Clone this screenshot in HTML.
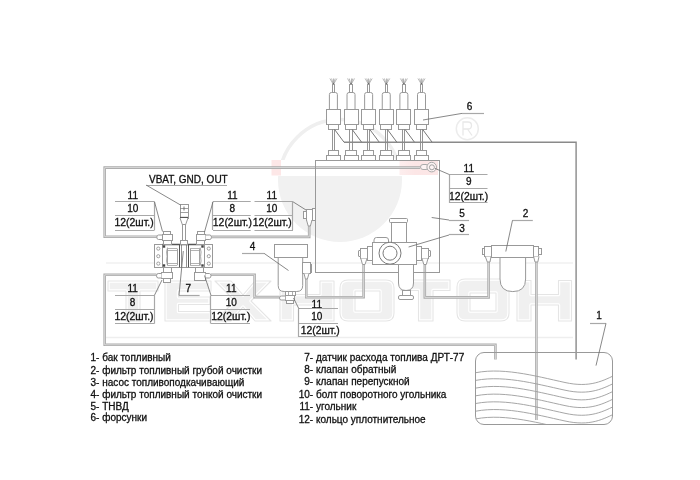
<!DOCTYPE html>
<html><head><meta charset="utf-8"><style>
html,body{margin:0;padding:0;background:#fff;width:700px;height:480px;overflow:hidden}
svg{display:block;will-change:transform;font-family:"Liberation Sans",sans-serif}
</style></head><body>
<svg width="700" height="480" viewBox="0 0 700 480">
<g><clipPath id="cb"><rect x="200" y="176" width="300" height="120"/></clipPath><circle cx="340" cy="180" r="62" fill="#f1f1f1" clip-path="url(#cb)"/><clipPath id="ca"><rect x="200" y="80" width="300" height="80"/></clipPath><circle cx="340" cy="180" r="60.5" stroke="#efefef" stroke-width="3.5" fill="none" clip-path="url(#ca)"/><rect x="271.5" y="160" width="9.5" height="15.5" fill="#fde7e7"/><linearGradient id="pg" x1="0" x2="1" y1="0" y2="0"><stop offset="0" stop-color="#fdeeee"/><stop offset="0.4" stop-color="#fce6e6"/><stop offset="1" stop-color="#fce7e7"/></linearGradient><rect x="399.5" y="160.5" width="38.5" height="14.5" fill="url(#pg)"/><circle cx="467.3" cy="128.7" r="11" stroke="#ececec" stroke-width="1.5" fill="none"/><path d="M463,135.5 V122 H468 Q471.5,122 471.5,125.5 Q471.5,129 468,129 H463 M467.5,129 L472,135.5" stroke="#e8e8e8" stroke-width="1.3" fill="none"/><path d="M108,281 H158 V291 H140 V321 H126 V291 H108 Z" fill="#f0f0f0" stroke="#ffffff" stroke-width="3.4" fill-rule="evenodd" stroke-linejoin="round"/><path d="M108,281 H158 V291 H140 V321 H126 V291 H108 Z" fill="none" stroke="#e5e5e5" stroke-width="1.1" stroke-linejoin="round"/><path d="M165,281 H211 V291 H178.5 V297 H210 V304.5 H178.5 V311.5 H211 V321 H165 Z" fill="#f0f0f0" stroke="#ffffff" stroke-width="3.4" fill-rule="evenodd" stroke-linejoin="round"/><path d="M165,281 H211 V291 H178.5 V297 H210 V304.5 H178.5 V311.5 H211 V321 H165 Z" fill="none" stroke="#e5e5e5" stroke-width="1.1" stroke-linejoin="round"/><path d="M215,281 H231 L243,295 L255,281 H271 L251,301 L271,321 H255 L243,307 L231,321 H215 L235,301 Z" fill="#f0f0f0" stroke="#ffffff" stroke-width="3.4" fill-rule="evenodd" stroke-linejoin="round"/><path d="M215,281 H231 L243,295 L255,281 H271 L251,301 L271,321 H255 L243,307 L231,321 H215 L235,301 Z" fill="none" stroke="#e5e5e5" stroke-width="1.1" stroke-linejoin="round"/><path d="M280,281 H293.5 V294.5 H320 V281 H334 V321 H320 V305 H293.5 V321 H280 Z" fill="#f0f0f0" stroke="#ffffff" stroke-width="3.4" fill-rule="evenodd" stroke-linejoin="round"/><path d="M280,281 H293.5 V294.5 H320 V281 H334 V321 H320 V305 H293.5 V321 H280 Z" fill="none" stroke="#e5e5e5" stroke-width="1.1" stroke-linejoin="round"/><path d="M348,280 H386 Q394,280 394,288 V313 Q394,321 386,321 H348 Q340,321 340,313 V288 Q340,280 348,280 Z M355,291 V311 H380 V291 Z" fill="#f0f0f0" stroke="#ffffff" stroke-width="3.4" fill-rule="evenodd" stroke-linejoin="round"/><path d="M348,280 H386 Q394,280 394,288 V313 Q394,321 386,321 H348 Q340,321 340,313 V288 Q340,280 348,280 Z M355,291 V311 H380 V291 Z" fill="none" stroke="#e5e5e5" stroke-width="1.1" stroke-linejoin="round"/><path d="M401,280 H450 V290.5 H433 V321 H418.5 V290.5 H401 Z" fill="#f0f0f0" stroke="#ffffff" stroke-width="3.4" fill-rule="evenodd" stroke-linejoin="round"/><path d="M401,280 H450 V290.5 H433 V321 H418.5 V290.5 H401 Z" fill="none" stroke="#e5e5e5" stroke-width="1.1" stroke-linejoin="round"/><path d="M465,279 H501 Q509,279 509,287 V313 Q509,321 501,321 H465 Q457,321 457,313 V287 Q457,279 465,279 Z M470,293 V311 H496 V293 Z" fill="#f0f0f0" stroke="#ffffff" stroke-width="3.4" fill-rule="evenodd" stroke-linejoin="round"/><path d="M465,279 H501 Q509,279 509,287 V313 Q509,321 501,321 H465 Q457,321 457,313 V287 Q457,279 465,279 Z M470,293 V311 H496 V293 Z" fill="none" stroke="#e5e5e5" stroke-width="1.1" stroke-linejoin="round"/><path d="M517,280.5 H531 V294.5 H558.5 V280.5 H571.5 V321 H558.5 V305 H531 V321 H517 Z" fill="#f0f0f0" stroke="#ffffff" stroke-width="3.4" fill-rule="evenodd" stroke-linejoin="round"/><path d="M517,280.5 H531 V294.5 H558.5 V280.5 H571.5 V321 H558.5 V305 H531 V321 H517 Z" fill="none" stroke="#e5e5e5" stroke-width="1.1" stroke-linejoin="round"/><line x1="106" y1="337.5" x2="573" y2="337.5" stroke="#eeeeee" stroke-width="1.3"/><line x1="106" y1="263" x2="573" y2="263" stroke="#f0f0f0" stroke-width="1.3"/></g>
<g><path d="M344,142.2 H576.1 V359.5" stroke="#8a8a8a" stroke-width="1.4" fill="none"/><path d="M420,167.6 H104.7 V236.7 H157" stroke="#aaaaaa" stroke-width="2.6" fill="none" stroke-linejoin="miter"/><path d="M420,167.6 H104.7 V236.7 H157" stroke="#ececec" stroke-width="0.7" fill="none"/><path d="M211.5,236.9 H309.2 V226" stroke="#aaaaaa" stroke-width="2.6" fill="none" stroke-linejoin="miter"/><path d="M211.5,236.9 H309.2 V226" stroke="#ececec" stroke-width="0.7" fill="none"/><path d="M156.5,274.8 H104.7 V344.8 H495.4 V359.5" stroke="#aaaaaa" stroke-width="2.6" fill="none" stroke-linejoin="miter"/><path d="M156.5,274.8 H104.7 V344.8 H495.4 V359.5" stroke="#ececec" stroke-width="0.7" fill="none"/><path d="M211,274.8 H254.6 V297.1 H279.5" stroke="#aaaaaa" stroke-width="2.6" fill="none" stroke-linejoin="miter"/><path d="M211,274.8 H254.6 V297.1 H279.5" stroke="#ececec" stroke-width="0.7" fill="none"/><path d="M306.3,279 V297.2 H363.6 V264.5" stroke="#aaaaaa" stroke-width="2.6" fill="none" stroke-linejoin="miter"/><path d="M306.3,279 V297.2 H363.6 V264.5" stroke="#ececec" stroke-width="0.7" fill="none"/><path d="M424.8,264.5 V297.4 H488.6 V262" stroke="#aaaaaa" stroke-width="2.6" fill="none" stroke-linejoin="miter"/><path d="M424.8,264.5 V297.4 H488.6 V262" stroke="#ececec" stroke-width="0.7" fill="none"/><path d="M536.4,262 V420" stroke="#aaaaaa" stroke-width="2.6" fill="none" stroke-linejoin="miter"/><path d="M536.4,262 V420" stroke="#ececec" stroke-width="0.7" fill="none"/><rect x="315.50" y="160.50" width="124.00" height="112.00" rx="0" stroke="#999" stroke-width="1" fill="none"/><line x1="333.40" y1="84.50" x2="329.90" y2="78.50" stroke="#9a9a9a" stroke-width="0.7"/><line x1="333.40" y1="84.50" x2="331.60" y2="78.50" stroke="#9a9a9a" stroke-width="0.7"/><line x1="333.50" y1="84.50" x2="333.50" y2="78.50" stroke="#9a9a9a" stroke-width="0.7"/><line x1="333.40" y1="84.50" x2="335.20" y2="78.50" stroke="#9a9a9a" stroke-width="0.7"/><line x1="333.40" y1="84.50" x2="336.90" y2="78.50" stroke="#9a9a9a" stroke-width="0.7"/><circle cx="333.40" cy="84.3" r="0.9" fill="#222"/><rect x="332.50" y="84.50" width="2.00" height="8.00" rx="0" stroke="#999" stroke-width="1" fill="#fff"/><path d="M329.40,109.5 V94.5 Q329.40,92.5 331.40,92.5 H335.40 Q337.40,92.5 337.40,94.5 V109.5" stroke="#999" stroke-width="1" fill="#fff"/><rect x="326.50" y="109.50" width="14.00" height="15.00" rx="0" stroke="#999" stroke-width="1" fill="#fff"/><rect x="328.50" y="124.50" width="10.00" height="5.00" rx="0" stroke="#999" stroke-width="1" fill="#fff"/><line x1="332.50" y1="129.30" x2="332.50" y2="150.00" stroke="#8a8a8a" stroke-width="0.9"/><line x1="334.50" y1="129.30" x2="334.50" y2="150.00" stroke="#8a8a8a" stroke-width="0.9"/><line x1="334.60" y1="129.50" x2="344.00" y2="142.20" stroke="#777" stroke-width="1"/><rect x="328.50" y="150.50" width="10.00" height="5.00" rx="0" stroke="#999" stroke-width="1" fill="#fff"/><rect x="326.50" y="155.50" width="14.00" height="5.00" rx="0" stroke="#999" stroke-width="1" fill="#fff"/><line x1="351.02" y1="84.50" x2="347.52" y2="78.50" stroke="#9a9a9a" stroke-width="0.7"/><line x1="351.02" y1="84.50" x2="349.22" y2="78.50" stroke="#9a9a9a" stroke-width="0.7"/><line x1="351.50" y1="84.50" x2="351.50" y2="78.50" stroke="#9a9a9a" stroke-width="0.7"/><line x1="351.02" y1="84.50" x2="352.82" y2="78.50" stroke="#9a9a9a" stroke-width="0.7"/><line x1="351.02" y1="84.50" x2="354.52" y2="78.50" stroke="#9a9a9a" stroke-width="0.7"/><circle cx="351.02" cy="84.3" r="0.9" fill="#222"/><rect x="349.50" y="84.50" width="3.00" height="8.00" rx="0" stroke="#999" stroke-width="1" fill="#fff"/><path d="M347.02,109.5 V94.5 Q347.02,92.5 349.02,92.5 H353.02 Q355.02,92.5 355.02,94.5 V109.5" stroke="#999" stroke-width="1" fill="#fff"/><rect x="344.50" y="109.50" width="14.00" height="15.00" rx="0" stroke="#999" stroke-width="1" fill="#fff"/><rect x="345.50" y="124.50" width="11.00" height="5.00" rx="0" stroke="#999" stroke-width="1" fill="#fff"/><line x1="349.50" y1="129.30" x2="349.50" y2="150.00" stroke="#8a8a8a" stroke-width="0.9"/><line x1="352.50" y1="129.30" x2="352.50" y2="150.00" stroke="#8a8a8a" stroke-width="0.9"/><line x1="352.22" y1="129.50" x2="361.62" y2="142.20" stroke="#777" stroke-width="1"/><rect x="345.50" y="150.50" width="11.00" height="5.00" rx="0" stroke="#999" stroke-width="1" fill="#fff"/><rect x="344.50" y="155.50" width="14.00" height="5.00" rx="0" stroke="#999" stroke-width="1" fill="#fff"/><line x1="368.64" y1="84.50" x2="365.14" y2="78.50" stroke="#9a9a9a" stroke-width="0.7"/><line x1="368.64" y1="84.50" x2="366.84" y2="78.50" stroke="#9a9a9a" stroke-width="0.7"/><line x1="368.50" y1="84.50" x2="368.50" y2="78.50" stroke="#9a9a9a" stroke-width="0.7"/><line x1="368.64" y1="84.50" x2="370.44" y2="78.50" stroke="#9a9a9a" stroke-width="0.7"/><line x1="368.64" y1="84.50" x2="372.14" y2="78.50" stroke="#9a9a9a" stroke-width="0.7"/><circle cx="368.64" cy="84.3" r="0.9" fill="#222"/><rect x="367.50" y="84.50" width="2.00" height="8.00" rx="0" stroke="#999" stroke-width="1" fill="#fff"/><path d="M364.64,109.5 V94.5 Q364.64,92.5 366.64,92.5 H370.64 Q372.64,92.5 372.64,94.5 V109.5" stroke="#999" stroke-width="1" fill="#fff"/><rect x="361.50" y="109.50" width="14.00" height="15.00" rx="0" stroke="#999" stroke-width="1" fill="#fff"/><rect x="363.50" y="124.50" width="10.00" height="5.00" rx="0" stroke="#999" stroke-width="1" fill="#fff"/><line x1="367.50" y1="129.30" x2="367.50" y2="150.00" stroke="#8a8a8a" stroke-width="0.9"/><line x1="369.50" y1="129.30" x2="369.50" y2="150.00" stroke="#8a8a8a" stroke-width="0.9"/><line x1="369.84" y1="129.50" x2="379.24" y2="142.20" stroke="#777" stroke-width="1"/><rect x="363.50" y="150.50" width="10.00" height="5.00" rx="0" stroke="#999" stroke-width="1" fill="#fff"/><rect x="361.50" y="155.50" width="14.00" height="5.00" rx="0" stroke="#999" stroke-width="1" fill="#fff"/><line x1="386.26" y1="84.50" x2="382.76" y2="78.50" stroke="#9a9a9a" stroke-width="0.7"/><line x1="386.26" y1="84.50" x2="384.46" y2="78.50" stroke="#9a9a9a" stroke-width="0.7"/><line x1="386.50" y1="84.50" x2="386.50" y2="78.50" stroke="#9a9a9a" stroke-width="0.7"/><line x1="386.26" y1="84.50" x2="388.06" y2="78.50" stroke="#9a9a9a" stroke-width="0.7"/><line x1="386.26" y1="84.50" x2="389.76" y2="78.50" stroke="#9a9a9a" stroke-width="0.7"/><circle cx="386.26" cy="84.3" r="0.9" fill="#222"/><rect x="385.50" y="84.50" width="2.00" height="8.00" rx="0" stroke="#999" stroke-width="1" fill="#fff"/><path d="M382.26,109.5 V94.5 Q382.26,92.5 384.26,92.5 H388.26 Q390.26,92.5 390.26,94.5 V109.5" stroke="#999" stroke-width="1" fill="#fff"/><rect x="379.50" y="109.50" width="14.00" height="15.00" rx="0" stroke="#999" stroke-width="1" fill="#fff"/><rect x="380.50" y="124.50" width="11.00" height="5.00" rx="0" stroke="#999" stroke-width="1" fill="#fff"/><line x1="385.50" y1="129.30" x2="385.50" y2="150.00" stroke="#8a8a8a" stroke-width="0.9"/><line x1="387.50" y1="129.30" x2="387.50" y2="150.00" stroke="#8a8a8a" stroke-width="0.9"/><line x1="387.46" y1="129.50" x2="396.86" y2="142.20" stroke="#777" stroke-width="1"/><rect x="380.50" y="150.50" width="11.00" height="5.00" rx="0" stroke="#999" stroke-width="1" fill="#fff"/><rect x="379.50" y="155.50" width="14.00" height="5.00" rx="0" stroke="#999" stroke-width="1" fill="#fff"/><line x1="403.88" y1="84.50" x2="400.38" y2="78.50" stroke="#9a9a9a" stroke-width="0.7"/><line x1="403.88" y1="84.50" x2="402.08" y2="78.50" stroke="#9a9a9a" stroke-width="0.7"/><line x1="403.50" y1="84.50" x2="403.50" y2="78.50" stroke="#9a9a9a" stroke-width="0.7"/><line x1="403.88" y1="84.50" x2="405.68" y2="78.50" stroke="#9a9a9a" stroke-width="0.7"/><line x1="403.88" y1="84.50" x2="407.38" y2="78.50" stroke="#9a9a9a" stroke-width="0.7"/><circle cx="403.88" cy="84.3" r="0.9" fill="#222"/><rect x="402.50" y="84.50" width="3.00" height="8.00" rx="0" stroke="#999" stroke-width="1" fill="#fff"/><path d="M399.88,109.5 V94.5 Q399.88,92.5 401.88,92.5 H405.88 Q407.88,92.5 407.88,94.5 V109.5" stroke="#999" stroke-width="1" fill="#fff"/><rect x="396.50" y="109.50" width="14.00" height="15.00" rx="0" stroke="#999" stroke-width="1" fill="#fff"/><rect x="398.50" y="124.50" width="11.00" height="5.00" rx="0" stroke="#999" stroke-width="1" fill="#fff"/><line x1="402.50" y1="129.30" x2="402.50" y2="150.00" stroke="#8a8a8a" stroke-width="0.9"/><line x1="404.50" y1="129.30" x2="404.50" y2="150.00" stroke="#8a8a8a" stroke-width="0.9"/><line x1="405.08" y1="129.50" x2="414.48" y2="142.20" stroke="#777" stroke-width="1"/><rect x="398.50" y="150.50" width="11.00" height="5.00" rx="0" stroke="#999" stroke-width="1" fill="#fff"/><rect x="396.50" y="155.50" width="14.00" height="5.00" rx="0" stroke="#999" stroke-width="1" fill="#fff"/><line x1="421.50" y1="84.50" x2="418.00" y2="78.50" stroke="#9a9a9a" stroke-width="0.7"/><line x1="421.50" y1="84.50" x2="419.70" y2="78.50" stroke="#9a9a9a" stroke-width="0.7"/><line x1="421.50" y1="84.50" x2="421.50" y2="78.50" stroke="#9a9a9a" stroke-width="0.7"/><line x1="421.50" y1="84.50" x2="423.30" y2="78.50" stroke="#9a9a9a" stroke-width="0.7"/><line x1="421.50" y1="84.50" x2="425.00" y2="78.50" stroke="#9a9a9a" stroke-width="0.7"/><circle cx="421.50" cy="84.3" r="0.9" fill="#222"/><rect x="420.50" y="84.50" width="2.00" height="8.00" rx="0" stroke="#999" stroke-width="1" fill="#fff"/><path d="M417.50,109.5 V94.5 Q417.50,92.5 419.50,92.5 H423.50 Q425.50,92.5 425.50,94.5 V109.5" stroke="#999" stroke-width="1" fill="#fff"/><rect x="414.50" y="109.50" width="14.00" height="15.00" rx="0" stroke="#999" stroke-width="1" fill="#fff"/><rect x="416.50" y="124.50" width="10.00" height="5.00" rx="0" stroke="#999" stroke-width="1" fill="#fff"/><line x1="420.50" y1="129.30" x2="420.50" y2="150.00" stroke="#8a8a8a" stroke-width="0.9"/><line x1="422.50" y1="129.30" x2="422.50" y2="150.00" stroke="#8a8a8a" stroke-width="0.9"/><line x1="422.70" y1="129.50" x2="432.10" y2="142.20" stroke="#777" stroke-width="1"/><rect x="416.50" y="150.50" width="10.00" height="5.00" rx="0" stroke="#999" stroke-width="1" fill="#fff"/><rect x="414.50" y="155.50" width="14.00" height="5.00" rx="0" stroke="#999" stroke-width="1" fill="#fff"/><rect x="420.50" y="164.50" width="8.00" height="5.00" rx="2.5" stroke="#aaa" stroke-width="1" fill="#fdf3f3"/><circle cx="431.7" cy="167.1" r="4.8" stroke="#aaa" stroke-width="1" fill="#fdf3f3"/><circle cx="431.9" cy="167.3" r="2.5" stroke="#999" stroke-width="0.9" fill="none"/><rect x="154.50" y="244.50" width="58.00" height="23.00" rx="0" stroke="#999" stroke-width="1" fill="#fff"/><rect x="162.50" y="244.50" width="42.00" height="23.00" rx="0" stroke="#999" stroke-width="1" fill="#fff"/><circle cx="158.3" cy="248.6" r="1.6" stroke="#8a8a8a" stroke-width="0.8" fill="none"/><circle cx="208.8" cy="248.6" r="1.6" stroke="#8a8a8a" stroke-width="0.8" fill="none"/><circle cx="158.3" cy="256.2" r="1.6" stroke="#8a8a8a" stroke-width="0.8" fill="none"/><circle cx="208.8" cy="256.2" r="1.6" stroke="#8a8a8a" stroke-width="0.8" fill="none"/><circle cx="158.3" cy="263.6" r="1.6" stroke="#8a8a8a" stroke-width="0.8" fill="none"/><circle cx="208.8" cy="263.6" r="1.6" stroke="#8a8a8a" stroke-width="0.8" fill="none"/><line x1="167.80" y1="248.50" x2="177.20" y2="248.50" stroke="#aaa" stroke-width="0.9"/><line x1="167.80" y1="250.50" x2="177.20" y2="250.50" stroke="#aaa" stroke-width="0.9"/><line x1="167.80" y1="263.50" x2="177.20" y2="263.50" stroke="#aaa" stroke-width="0.9"/><line x1="167.80" y1="265.50" x2="177.20" y2="265.50" stroke="#aaa" stroke-width="0.9"/><line x1="167.50" y1="248.75" x2="167.50" y2="265.10" stroke="#999" stroke-width="0.9"/><line x1="177.50" y1="248.75" x2="177.50" y2="265.10" stroke="#999" stroke-width="0.9"/><path d="M167.5,247.6 Q166.0,252 167.1,256.3 Q166.0,261 167.5,265.6" stroke="#999" stroke-width="0.9" fill="none"/><line x1="190.10" y1="248.50" x2="199.90" y2="248.50" stroke="#aaa" stroke-width="0.9"/><line x1="190.10" y1="250.50" x2="199.90" y2="250.50" stroke="#aaa" stroke-width="0.9"/><line x1="190.10" y1="263.50" x2="199.90" y2="263.50" stroke="#aaa" stroke-width="0.9"/><line x1="190.10" y1="265.50" x2="199.90" y2="265.50" stroke="#aaa" stroke-width="0.9"/><line x1="190.50" y1="248.75" x2="190.50" y2="265.10" stroke="#999" stroke-width="0.9"/><line x1="199.50" y1="248.75" x2="199.50" y2="265.10" stroke="#999" stroke-width="0.9"/><path d="M200.2,247.6 Q201.7,252 200.6,256.3 Q201.7,261 200.2,265.6" stroke="#999" stroke-width="0.9" fill="none"/><line x1="179.50" y1="245.00" x2="179.50" y2="267.30" stroke="#555" stroke-width="1"/><line x1="181.50" y1="245.00" x2="181.50" y2="267.30" stroke="#777" stroke-width="0.8"/><line x1="186.50" y1="245.00" x2="186.50" y2="267.30" stroke="#777" stroke-width="0.8"/><line x1="188.50" y1="245.00" x2="188.50" y2="267.30" stroke="#555" stroke-width="1"/><line x1="162.50" y1="244.50" x2="204.00" y2="244.50" stroke="#555" stroke-width="1.3"/><rect x="162.8" y="245.3" width="2.4" height="2.4" fill="#444"/><rect x="201.3" y="245.3" width="2.4" height="2.4" fill="#444"/><rect x="162.8" y="264.3" width="2.4" height="2.4" fill="#444"/><rect x="201.3" y="264.3" width="2.4" height="2.4" fill="#444"/><rect x="180.50" y="204.50" width="8.00" height="14.00" rx="0" stroke="#999" stroke-width="1" fill="#fff"/><line x1="180.00" y1="208.50" x2="188.00" y2="208.50" stroke="#888" stroke-width="0.8"/><line x1="180.00" y1="212.50" x2="188.00" y2="212.50" stroke="#888" stroke-width="0.8"/><line x1="180.00" y1="217.50" x2="188.00" y2="217.50" stroke="#555" stroke-width="1.3"/><line x1="184" y1="206.5" x2="184" y2="210.5" stroke="#555" stroke-width="0.8"/><path d="M180,218 L182.5,225 H185.5 L188,218" stroke="#999" stroke-width="1" fill="#fff"/><rect x="182.50" y="224.50" width="3.00" height="16.00" rx="0" stroke="#999" stroke-width="1" fill="#fff"/><rect x="180.50" y="240.50" width="7.00" height="4.00" rx="0" stroke="#999" stroke-width="1" fill="#fff"/><rect x="163.50" y="231.50" width="7.00" height="3.00" rx="0" stroke="#999" stroke-width="1" fill="#fff"/><rect x="162.50" y="234.50" width="10.00" height="6.00" rx="0" stroke="#999" stroke-width="1" fill="#fff"/><rect x="163.50" y="240.50" width="8.00" height="4.00" rx="0" stroke="#999" stroke-width="1" fill="#fff"/><path d="M162,235 H158.5 Q156.8,235 156.8,237.2 Q156.8,239.5 158.5,239.5 H162" stroke="#999" stroke-width="1" fill="#fff"/><rect x="197.50" y="231.50" width="7.00" height="3.00" rx="0" stroke="#999" stroke-width="1" fill="#fff"/><rect x="196.50" y="234.50" width="9.00" height="6.00" rx="0" stroke="#999" stroke-width="1" fill="#fff"/><rect x="196.50" y="240.50" width="8.00" height="4.00" rx="0" stroke="#999" stroke-width="1" fill="#fff"/><path d="M205.5,235 H209.8 Q211.5,235 211.5,237.2 Q211.5,239.5 209.8,239.5 H205.5" stroke="#999" stroke-width="1" fill="#fff"/><rect x="163.50" y="267.50" width="8.00" height="5.00" rx="0" stroke="#999" stroke-width="1" fill="#fff"/><rect x="161.50" y="272.50" width="11.00" height="6.00" rx="0" stroke="#999" stroke-width="1" fill="#fff"/><rect x="163.50" y="278.50" width="7.00" height="4.00" rx="0" stroke="#999" stroke-width="1" fill="#fff"/><path d="M161.5,273.5 H158.2 Q156.5,273.5 156.5,275.7 Q156.5,278 158.2,278 H161.5" stroke="#999" stroke-width="1" fill="#fff"/><rect x="195.50" y="267.50" width="8.00" height="5.00" rx="0" stroke="#999" stroke-width="1" fill="#fff"/><rect x="194.50" y="272.50" width="11.00" height="8.00" rx="0" stroke="#999" stroke-width="1" fill="#fff"/><path d="M205.5,273.5 H209.3 Q211,273.5 211,275.7 Q211,278 209.3,278 H205.5" stroke="#999" stroke-width="1" fill="#fff"/><rect x="306.50" y="209.50" width="6.00" height="11.00" rx="0" stroke="#999" stroke-width="1" fill="#fff"/><rect x="303.50" y="211.50" width="3.00" height="7.00" rx="0" stroke="#999" stroke-width="1" fill="#fff"/><rect x="312.50" y="208.50" width="3.00" height="12.00" rx="0" stroke="#999" stroke-width="1" fill="#fff"/><path d="M306.5,220 L308.2,226 H310.4 L312,220" stroke="#999" stroke-width="1" fill="#fff"/><path d="M278.2,257.5 V285.5 Q278.2,291.5 284.2,291.5 H296.7 Q302.7,291.5 302.7,285.5 V257.5" stroke="#999" stroke-width="1" fill="#fff"/><rect x="274.50" y="244.50" width="33.00" height="13.00" rx="0" stroke="#999" stroke-width="1" fill="#fff"/><rect x="285.50" y="291.50" width="10.00" height="4.00" rx="0" stroke="#999" stroke-width="1" fill="#fff"/><line x1="288.50" y1="291.50" x2="288.50" y2="295.50" stroke="#999" stroke-width="0.8"/><line x1="292.50" y1="291.50" x2="292.50" y2="295.50" stroke="#999" stroke-width="0.8"/><rect x="285.50" y="295.50" width="9.00" height="5.00" rx="0" stroke="#999" stroke-width="1" fill="#fff"/><rect x="286.50" y="300.50" width="7.00" height="3.00" rx="0" stroke="#999" stroke-width="1" fill="#fff"/><path d="M285.2,296 H281.2 Q279.5,296 279.5,298 Q279.5,300 281.2,300 H285.2" stroke="#999" stroke-width="1" fill="#fff"/><rect x="302.50" y="262.50" width="8.00" height="11.00" rx="0" stroke="#999" stroke-width="1" fill="#fff"/><rect x="310.50" y="264.50" width="1.00" height="8.00" rx="0" stroke="#999" stroke-width="1" fill="#fff"/><path d="M304,273.5 L305.4,279 H307.4 L309,273.5" stroke="#999" stroke-width="1" fill="#fff"/><path d="M398.5,264 V283 Q398.5,290.5 406,290.5 Q413.5,290.5 413.5,283 V264" stroke="#999" stroke-width="1" fill="#fff"/><rect x="402.50" y="290.50" width="8.00" height="5.00" rx="0" stroke="#999" stroke-width="1" fill="#fff"/><rect x="398.50" y="295.50" width="15.00" height="4.00" rx="1.5" stroke="#999" stroke-width="1" fill="#fff"/><rect x="391.50" y="222.50" width="15.00" height="20.00" rx="0" stroke="#999" stroke-width="1" fill="#fff"/><rect x="389.50" y="218.50" width="18.00" height="4.00" rx="1" stroke="#999" stroke-width="1" fill="#fff"/><path d="M374,242.5 V240 Q374,237.5 376.5,237.5 H386 Q388.5,237.5 388.5,240 V242.5" stroke="#999" stroke-width="1" fill="#fff"/><rect x="372.50" y="242.50" width="44.00" height="22.00" rx="0" stroke="#999" stroke-width="1" fill="#fff"/><circle cx="390" cy="253.2" r="11" stroke="#7a7a7a" stroke-width="1" fill="#fff"/><circle cx="390" cy="253.2" r="7" stroke="#7a7a7a" stroke-width="1" fill="none"/><rect x="367.50" y="246.50" width="5.00" height="14.00" rx="0" stroke="#999" stroke-width="1" fill="#fff"/><rect x="360.50" y="248.50" width="7.00" height="10.00" rx="0" stroke="#999" stroke-width="1" fill="#fff"/><rect x="358.50" y="250.50" width="2.00" height="6.00" rx="0.5" stroke="#999" stroke-width="1" fill="#fff"/><path d="M360.8,258.5 L362.5,264.5 H365 L367,258.5" stroke="#999" stroke-width="1" fill="#fff"/><rect x="416.50" y="246.50" width="5.00" height="14.00" rx="0" stroke="#999" stroke-width="1" fill="#fff"/><rect x="421.50" y="248.50" width="7.00" height="10.00" rx="0" stroke="#999" stroke-width="1" fill="#fff"/><rect x="428.50" y="250.50" width="2.00" height="6.00" rx="0.5" stroke="#999" stroke-width="1" fill="#fff"/><path d="M422,258.5 L423.8,264.5 H426.3 L428,258.5" stroke="#999" stroke-width="1" fill="#fff"/><path d="M500,257.2 V279 Q500,291.6 512.8,291.6 Q525.6,291.6 525.6,279 V257.2" stroke="#999" stroke-width="1" fill="#fff"/><rect x="491.50" y="245.50" width="42.00" height="12.00" rx="0" stroke="#999" stroke-width="1" fill="#fff"/><rect x="484.50" y="246.50" width="7.00" height="10.00" rx="0" stroke="#999" stroke-width="1" fill="#fff"/><rect x="482.50" y="248.50" width="2.00" height="6.00" rx="0" stroke="#999" stroke-width="1" fill="#fff"/><path d="M485.3,256.5 L487.3,262 H490 L491,256.5" stroke="#999" stroke-width="1" fill="#fff"/><rect x="533.50" y="246.50" width="5.00" height="10.00" rx="0" stroke="#999" stroke-width="1" fill="#fff"/><rect x="538.50" y="248.50" width="3.00" height="6.00" rx="0" stroke="#999" stroke-width="1" fill="#fff"/><path d="M533.6,256.5 L535,262 H537.8 L539,256.5" stroke="#999" stroke-width="1" fill="#fff"/><clipPath id="tk"><rect x="475.5" y="352.5" width="137" height="72" rx="8.5"/></clipPath><rect x="475.50" y="352.50" width="137.00" height="72.00" rx="8.5" stroke="#999" stroke-width="1" fill="none"/><g clip-path="url(#tk)"><path d="M470,374.0 C500,366.0 535,376.0 565,382.5 C590,388.0 603,381.0 618,373.5 M470,381.7 C500,373.7 535,383.7 565,390.2 C590,395.7 603,388.7 618,381.2 M470,389.4 C500,381.4 535,391.4 565,397.9 C590,403.4 603,396.4 618,388.9 M470,397.1 C500,389.1 535,399.1 565,405.6 C590,411.1 603,404.1 618,396.6 M470,404.8 C500,396.8 535,406.8 565,413.3 C590,418.8 603,411.8 618,404.3 M470,412.5 C500,404.5 535,414.5 565,421.0 C590,426.5 603,419.5 618,412.0 M470,420.2 C500,412.2 535,422.2 565,428.7 C590,434.2 603,427.2 618,419.7 M470,427.9 C500,419.9 535,429.9 565,436.4 C590,441.9 603,434.9 618,427.4" stroke="#9c9c9c" stroke-width="0.9" fill="none"/></g><text x="469.60" y="110.00" text-anchor="middle" font-size="10" fill="#111" stroke="#111" stroke-width="0.3">6</text><line x1="462.00" y1="113.50" x2="484.00" y2="113.50" stroke="#a8a8a8" stroke-width="1.2"/><path d="M423,120 L462,113.4" stroke="#6a6a6a" stroke-width="0.8" fill="none"/><text x="462.00" y="217.30" text-anchor="middle" font-size="10" fill="#111" stroke="#111" stroke-width="0.3">5</text><line x1="449.00" y1="220.50" x2="469.00" y2="220.50" stroke="#a8a8a8" stroke-width="1.2"/><path d="M431.7,217.5 L449,220" stroke="#6a6a6a" stroke-width="0.8" fill="none"/><text x="462.00" y="232.30" text-anchor="middle" font-size="10" fill="#111" stroke="#111" stroke-width="0.3">3</text><line x1="449.00" y1="234.50" x2="469.00" y2="234.50" stroke="#a8a8a8" stroke-width="1.2"/><path d="M408.6,247 L449,235" stroke="#6a6a6a" stroke-width="0.8" fill="none"/><text x="525.60" y="217.00" text-anchor="middle" font-size="10" fill="#111" stroke="#111" stroke-width="0.3">2</text><line x1="512.50" y1="220.50" x2="532.80" y2="220.50" stroke="#a8a8a8" stroke-width="1.2"/><path d="M512.5,220.3 L505.8,251.5" stroke="#6a6a6a" stroke-width="0.8" fill="none"/><text x="252.50" y="250.20" text-anchor="middle" font-size="10" fill="#111" stroke="#111" stroke-width="0.3">4</text><line x1="242.00" y1="253.50" x2="264.00" y2="253.50" stroke="#a8a8a8" stroke-width="1.2"/><path d="M264,253.3 L288.5,270.5" stroke="#6a6a6a" stroke-width="0.8" fill="none"/><text x="599.00" y="319.20" text-anchor="middle" font-size="10" fill="#111" stroke="#111" stroke-width="0.3">1</text><line x1="590.00" y1="323.50" x2="606.00" y2="323.50" stroke="#a8a8a8" stroke-width="1.2"/><path d="M606,323.4 L596,365.6" stroke="#6a6a6a" stroke-width="0.8" fill="none"/><text x="188.30" y="292.00" text-anchor="middle" font-size="10" fill="#111" stroke="#111" stroke-width="0.3">7</text><line x1="179.00" y1="295.50" x2="199.60" y2="295.50" stroke="#a8a8a8" stroke-width="1.2"/><path d="M183.3,251 L179,295.4" stroke="#6a6a6a" stroke-width="0.8" fill="none"/><text x="149.00" y="182.50" text-anchor="start" font-size="10" fill="#111" stroke="#111" stroke-width="0.3">VBAT, GND, OUT</text><line x1="146.00" y1="185.50" x2="227.00" y2="185.50" stroke="#a8a8a8" stroke-width="1.2"/><path d="M146.4,185.2 L180.5,205" stroke="#6a6a6a" stroke-width="0.8" fill="none"/><text x="132.80" y="198.60" text-anchor="middle" font-size="10" fill="#111" stroke="#111" stroke-width="0.3">11</text><text x="132.80" y="212.10" text-anchor="middle" font-size="10" fill="#111" stroke="#111" stroke-width="0.3">10</text><text x="114.55" y="226.10" font-size="10" fill="#111" stroke="#111" stroke-width="0.3" textLength="39.1" lengthAdjust="spacingAndGlyphs">12(2шт.)</text><line x1="115.00" y1="201.50" x2="154.50" y2="201.50" stroke="#a8a8a8" stroke-width="1.2"/><line x1="115.00" y1="215.50" x2="154.50" y2="215.50" stroke="#a8a8a8" stroke-width="1.2"/><line x1="115.00" y1="230.50" x2="154.50" y2="230.50" stroke="#a8a8a8" stroke-width="1.2"/><line x1="154.50" y1="201.80" x2="154.50" y2="230.00" stroke="#a8a8a8" stroke-width="1.2"/><path d="M154.5,201.8 L162.5,231.5" stroke="#6a6a6a" stroke-width="0.8" fill="none"/><text x="232.40" y="198.60" text-anchor="middle" font-size="10" fill="#111" stroke="#111" stroke-width="0.3">11</text><text x="232.40" y="212.10" text-anchor="middle" font-size="10" fill="#111" stroke="#111" stroke-width="0.3">8</text><text x="212.85" y="226.10" font-size="10" fill="#111" stroke="#111" stroke-width="0.3" textLength="39.1" lengthAdjust="spacingAndGlyphs">12(2шт.)</text><line x1="213.00" y1="201.50" x2="250.70" y2="201.50" stroke="#a8a8a8" stroke-width="1.2"/><line x1="213.00" y1="215.50" x2="250.70" y2="215.50" stroke="#a8a8a8" stroke-width="1.2"/><line x1="213.00" y1="230.50" x2="250.70" y2="230.50" stroke="#a8a8a8" stroke-width="1.2"/><line x1="212.50" y1="201.80" x2="212.50" y2="230.00" stroke="#a8a8a8" stroke-width="1.2"/><path d="M213,201.8 L204.5,232" stroke="#6a6a6a" stroke-width="0.8" fill="none"/><text x="271.80" y="198.60" text-anchor="middle" font-size="10" fill="#111" stroke="#111" stroke-width="0.3">11</text><text x="271.80" y="212.10" text-anchor="middle" font-size="10" fill="#111" stroke="#111" stroke-width="0.3">10</text><text x="252.65" y="226.10" font-size="10" fill="#111" stroke="#111" stroke-width="0.3" textLength="39.1" lengthAdjust="spacingAndGlyphs">12(2шт.)</text><line x1="254.50" y1="201.50" x2="293.00" y2="201.50" stroke="#a8a8a8" stroke-width="1.2"/><line x1="254.50" y1="215.50" x2="293.00" y2="215.50" stroke="#a8a8a8" stroke-width="1.2"/><line x1="254.50" y1="230.50" x2="293.00" y2="230.50" stroke="#a8a8a8" stroke-width="1.2"/><line x1="292.50" y1="201.80" x2="292.50" y2="230.00" stroke="#a8a8a8" stroke-width="1.2"/><path d="M293,201.8 L306,210" stroke="#6a6a6a" stroke-width="0.8" fill="none"/><text x="468.80" y="172.30" text-anchor="middle" font-size="10" fill="#111" stroke="#111" stroke-width="0.3">11</text><text x="468.80" y="185.30" text-anchor="middle" font-size="10" fill="#111" stroke="#111" stroke-width="0.3">9</text><text x="449.05" y="199.80" font-size="10" fill="#111" stroke="#111" stroke-width="0.3" textLength="39.1" lengthAdjust="spacingAndGlyphs">12(2шт.)</text><line x1="449.70" y1="174.50" x2="487.50" y2="174.50" stroke="#a8a8a8" stroke-width="1.2"/><line x1="449.70" y1="188.50" x2="487.50" y2="188.50" stroke="#a8a8a8" stroke-width="1.2"/><line x1="449.70" y1="202.50" x2="487.50" y2="202.50" stroke="#a8a8a8" stroke-width="1.2"/><line x1="449.50" y1="174.70" x2="449.50" y2="203.00" stroke="#a8a8a8" stroke-width="1.2"/><path d="M449.7,174.7 L435,168.4" stroke="#6a6a6a" stroke-width="0.8" fill="none"/><text x="132.60" y="292.00" text-anchor="middle" font-size="10" fill="#111" stroke="#111" stroke-width="0.3">11</text><text x="132.60" y="305.60" text-anchor="middle" font-size="10" fill="#111" stroke="#111" stroke-width="0.3">8</text><text x="114.45" y="320.00" font-size="10" fill="#111" stroke="#111" stroke-width="0.3" textLength="39.1" lengthAdjust="spacingAndGlyphs">12(2шт.)</text><line x1="115.00" y1="295.50" x2="154.40" y2="295.50" stroke="#a8a8a8" stroke-width="1.2"/><line x1="115.00" y1="309.50" x2="154.40" y2="309.50" stroke="#a8a8a8" stroke-width="1.2"/><line x1="115.00" y1="323.50" x2="154.40" y2="323.50" stroke="#a8a8a8" stroke-width="1.2"/><line x1="154.50" y1="295.40" x2="154.50" y2="323.60" stroke="#a8a8a8" stroke-width="1.2"/><path d="M154.4,295.4 L162,280" stroke="#6a6a6a" stroke-width="0.8" fill="none"/><text x="231.30" y="292.00" text-anchor="middle" font-size="10" fill="#111" stroke="#111" stroke-width="0.3">11</text><text x="231.30" y="305.60" text-anchor="middle" font-size="10" fill="#111" stroke="#111" stroke-width="0.3">10</text><text x="211.25" y="320.00" font-size="10" fill="#111" stroke="#111" stroke-width="0.3" textLength="39.1" lengthAdjust="spacingAndGlyphs">12(2шт.)</text><line x1="211.00" y1="295.50" x2="250.00" y2="295.50" stroke="#a8a8a8" stroke-width="1.2"/><line x1="211.00" y1="309.50" x2="250.00" y2="309.50" stroke="#a8a8a8" stroke-width="1.2"/><line x1="211.00" y1="323.50" x2="250.00" y2="323.50" stroke="#a8a8a8" stroke-width="1.2"/><line x1="210.50" y1="295.40" x2="210.50" y2="323.60" stroke="#a8a8a8" stroke-width="1.2"/><path d="M211,295.4 L204.5,275.5" stroke="#6a6a6a" stroke-width="0.8" fill="none"/><text x="316.80" y="307.60" text-anchor="middle" font-size="10" fill="#111" stroke="#111" stroke-width="0.3">11</text><text x="316.80" y="320.10" text-anchor="middle" font-size="10" fill="#111" stroke="#111" stroke-width="0.3">10</text><text x="300.65" y="334.00" font-size="10" fill="#111" stroke="#111" stroke-width="0.3" textLength="39.1" lengthAdjust="spacingAndGlyphs">12(2шт.)</text><line x1="299.00" y1="308.50" x2="338.00" y2="308.50" stroke="#a8a8a8" stroke-width="1.2"/><line x1="299.00" y1="323.50" x2="338.00" y2="323.50" stroke="#a8a8a8" stroke-width="1.2"/><line x1="299.00" y1="336.50" x2="338.00" y2="336.50" stroke="#a8a8a8" stroke-width="1.2"/><line x1="298.50" y1="309.00" x2="298.50" y2="337.00" stroke="#a8a8a8" stroke-width="1.2"/><path d="M299,309 L293.5,298" stroke="#6a6a6a" stroke-width="0.8" fill="none"/><text x="99.40" y="361.20" text-anchor="end" font-size="10" fill="#111" stroke="#111" stroke-width="0.3">1-</text><text x="102.20" y="361.20" text-anchor="start" font-size="10" fill="#111" stroke="#111" stroke-width="0.3">бак топливный</text><text x="99.40" y="373.50" text-anchor="end" font-size="10" fill="#111" stroke="#111" stroke-width="0.3">2-</text><text x="102.20" y="373.50" text-anchor="start" font-size="10" fill="#111" stroke="#111" stroke-width="0.3">фильтр топливный грубой очистки</text><text x="99.40" y="386.00" text-anchor="end" font-size="10" fill="#111" stroke="#111" stroke-width="0.3">3-</text><text x="102.20" y="386.00" text-anchor="start" font-size="10" fill="#111" stroke="#111" stroke-width="0.3">насос топливоподкачивающий</text><text x="99.40" y="397.80" text-anchor="end" font-size="10" fill="#111" stroke="#111" stroke-width="0.3">4-</text><text x="102.20" y="397.80" text-anchor="start" font-size="10" fill="#111" stroke="#111" stroke-width="0.3">фильтр топливный тонкой очистки</text><text x="99.40" y="410.20" text-anchor="end" font-size="10" fill="#111" stroke="#111" stroke-width="0.3">5-</text><text x="102.20" y="410.20" text-anchor="start" font-size="10" fill="#111" stroke="#111" stroke-width="0.3">ТНВД</text><text x="99.40" y="421.20" text-anchor="end" font-size="10" fill="#111" stroke="#111" stroke-width="0.3">6-</text><text x="102.20" y="421.20" text-anchor="start" font-size="10" fill="#111" stroke="#111" stroke-width="0.3">форсунки</text><text x="313.20" y="361.00" text-anchor="end" font-size="10" fill="#111" stroke="#111" stroke-width="0.3">7-</text><text x="316.00" y="361.00" text-anchor="start" font-size="10" fill="#111" stroke="#111" stroke-width="0.3">датчик расхода топлива ДРТ-77</text><text x="313.20" y="372.80" text-anchor="end" font-size="10" fill="#111" stroke="#111" stroke-width="0.3">8-</text><text x="316.00" y="372.80" text-anchor="start" font-size="10" fill="#111" stroke="#111" stroke-width="0.3">клапан обратный</text><text x="313.20" y="385.20" text-anchor="end" font-size="10" fill="#111" stroke="#111" stroke-width="0.3">9-</text><text x="316.00" y="385.20" text-anchor="start" font-size="10" fill="#111" stroke="#111" stroke-width="0.3">клапан перепускной</text><text x="313.20" y="398.00" text-anchor="end" font-size="10" fill="#111" stroke="#111" stroke-width="0.3">10-</text><text x="316.00" y="398.00" text-anchor="start" font-size="10" fill="#111" stroke="#111" stroke-width="0.3">болт поворотного угольника</text><text x="313.20" y="410.40" text-anchor="end" font-size="10" fill="#111" stroke="#111" stroke-width="0.3">11-</text><text x="316.00" y="410.40" text-anchor="start" font-size="10" fill="#111" stroke="#111" stroke-width="0.3">угольник</text><text x="313.20" y="423.00" text-anchor="end" font-size="10" fill="#111" stroke="#111" stroke-width="0.3">12-</text><text x="316.00" y="423.00" text-anchor="start" font-size="10" fill="#111" stroke="#111" stroke-width="0.3">кольцо уплотнительное</text></g>
</svg>
</body></html>
